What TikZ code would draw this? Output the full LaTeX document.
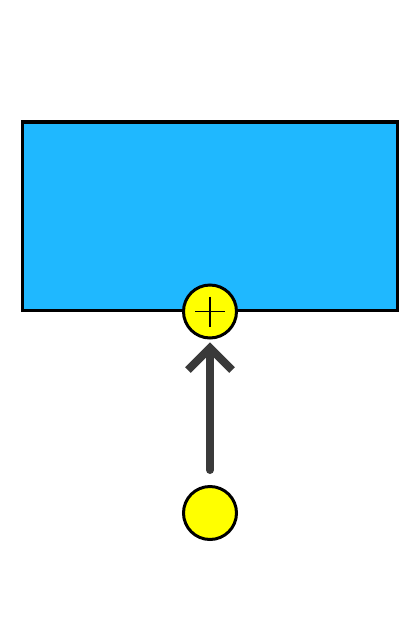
\documentclass[tikz,border=0pt]{standalone}
\usetikzlibrary{calc}
\definecolor{boxblue}{HTML}{1FB8FF}
\definecolor{arrgray}{HTML}{3A3A3A}
\definecolor{dotyellow}{HTML}{FFFF00}
\begin{document}
\begin{tikzpicture}[x=1pt,y=-1pt,
  boxstyle/.style={draw=black,fill=boxblue,line width=3.5pt,rectangle,inner sep=0pt,minimum width=375.2pt,minimum height=188.5pt},
  dotstyle/.style={draw=black,fill=dotyellow,line width=3pt,circle,inner sep=0pt,minimum size=53pt},
  plusstyle/.style={draw=black,line width=1.5pt},
  shaftstyle/.style={draw=arrgray,line width=8pt,line cap=round},
  headstyle/.style={draw=arrgray,line width=8pt,line cap=butt,line join=miter}]
\useasboundingbox (0,0) rectangle (417,625);
\node[boxstyle] (box) at (210.1,216.25) {};
\node[dotstyle] (sum) at (210,311.5) {};
\node[dotstyle] (src) at (210,513) {};
\draw[plusstyle] ($(sum.center)+(-15,0)$) -- ($(sum.center)+(15,0)$);
\draw[plusstyle] ($(sum.center)+(0,-15)$) -- ($(sum.center)+(0,15)$);
\coordinate (tip) at (210,348);
\draw[shaftstyle,shorten <=15pt] (src.north) -- ($(tip)+(0,4)$);
\draw[headstyle] ($(tip)+(-22,22)$) -- (tip) -- ($(tip)+(22,22)$);
\end{tikzpicture}
\end{document}
